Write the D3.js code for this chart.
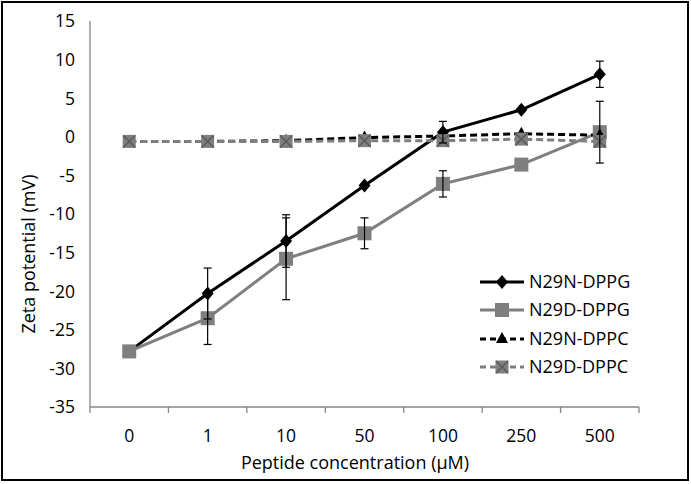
<!DOCTYPE html>
<html><head><meta charset="utf-8">
<script src="https://cdn.jsdelivr.net/npm/d3@7"></script>
<style>body{margin:0;background:#fff}svg{display:block}text{font-family:"Open Sans","Noto Sans",sans-serif;fill:#000}</style>
</head><body><svg id="c" width="691" height="484"></svg>
<script>
const categories = ["0","1","10","50","100","250","500"];
const seriesNames = ["N29N-DPPG","N29D-DPPG","N29N-DPPC","N29D-DPPC"];
const n29nDPPG = [-27.8,-20.3,-13.5,-6.3,0.6,3.5,8.1];
const n29nDPPGErr = [0,3.3,3.4,0,1.4,0,1.7];
const n29dDPPG = [-27.8,-23.5,-15.8,-12.5,-6.1,-3.6,0.6];
const n29dDPPGErr = [0,3.4,5.3,2.0,1.7,0,4.0];
const n29nDPPC = [-0.6,-0.6,-0.5,-0.1,0.1,0.4,0.2];
const n29dDPPC = [-0.6,-0.6,-0.6,-0.5,-0.5,-0.3,-0.6];
const yTicks = [15,10,5,0,-5,-10,-15,-20,-25,-30,-35];

const svg = d3.select("#c");
svg.append("rect").attr("x",2).attr("y",2).attr("width",686).attr("height",478)
  .attr("fill","none").attr("stroke","#000").attr("stroke-width",2);

const x = d3.scaleBand().domain(categories).range([90,639]);
const y = d3.scaleLinear().domain([-35,15]).range([407,21]);

// y axis
svg.append("line").attr("x1",90).attr("x2",90).attr("y1",y(15)).attr("y2",y(-35))
  .attr("stroke","#868686").attr("stroke-width",1.3);
svg.selectAll(".yl").data(yTicks).enter().append("text")
  .attr("x",75).attr("y",d=>y(d)).attr("dy","0.36em").attr("text-anchor","end")
  .attr("font-size",17.5).text(d=>d);
// x axis
svg.append("line").attr("x1",90).attr("x2",639).attr("y1",y(-35)).attr("y2",y(-35))
  .attr("stroke","#868686").attr("stroke-width",1.3);
const bounds = categories.map(c=>x(c)).concat([x.range()[1]]);
svg.selectAll(".xt").data(bounds).enter().append("line")
  .attr("x1",d=>d).attr("x2",d=>d).attr("y1",y(-35)).attr("y2",y(-35)+6)
  .attr("stroke","#868686").attr("stroke-width",1.3);
svg.selectAll(".xl").data(categories).enter().append("text")
  .attr("x",d=>x(d)+x.bandwidth()/2).attr("y",442).attr("text-anchor","middle")
  .attr("font-size",17.5).text(d=>d);
svg.append("text").attr("x",355).attr("y",469).attr("text-anchor","middle")
  .attr("font-size",18).text("Peptide concentration (μM)");
svg.append("text").attr("transform","translate(35,254) rotate(-90)").attr("text-anchor","middle")
  .attr("font-size",18).text("Zeta potential (mV)");

const cx = d => x(d)+x.bandwidth()/2;
const BLACK="#000", GRAY="#7f7f7f";
const series = [
  {name:seriesNames[0], v:n29nDPPG, err:n29nDPPGErr, color:BLACK, dash:null, marker:"diamond"},
  {name:seriesNames[1], v:n29dDPPG, err:n29dDPPGErr, color:GRAY, dash:null, marker:"square"},
  {name:seriesNames[2], v:n29nDPPC, err:null, color:BLACK, dash:"7,4", marker:"triangle"},
  {name:seriesNames[3], v:n29dDPPC, err:null, color:GRAY, dash:"7,4", marker:"xsquare"}
];
const line = d3.line().x((d,i)=>cx(categories[i])).y(d=>y(d));

function drawMarker(g, type, px, py, color){
  if(type==="diamond"){
    g.append("path").attr("d",`M${px},${py-7}L${px+6},${py}L${px},${py+7}L${px-6},${py}Z`).attr("fill",color);
  } else if(type==="square"){
    g.append("rect").attr("x",px-7).attr("y",py-7).attr("width",14).attr("height",14).attr("fill",color);
  } else if(type==="triangle"){
    g.append("path").attr("d",`M${px},${py-7}L${px+6},${py+4}L${px-6},${py+4}Z`).attr("fill",color);
  } else if(type==="xsquare"){
    g.append("rect").attr("x",px-6.5).attr("y",py-6.5).attr("width",13).attr("height",13).attr("fill",color);
    g.append("path").attr("d",`M${px-6},${py-6}L${px+6},${py+6}M${px+6},${py-6}L${px-6},${py+6}`)
      .attr("stroke","#5a5a5a").attr("stroke-width",1.5);
  }
}

const gErr = svg.append("g");
const gLines = svg.append("g");
const gMarks = svg.append("g");
series.forEach(s=>{
  gLines.append("path").datum(s.v).attr("d",line).attr("fill","none")
    .attr("stroke",s.color).attr("stroke-width",3).attr("stroke-dasharray",s.dash);
});
series.forEach(s=>{
  if(!s.err) return;
  s.v.forEach((v,i)=>{
    const e=s.err[i]; if(!e) return;
    const px=cx(categories[i]);
    gErr.append("line").attr("x1",px).attr("x2",px).attr("y1",y(v+e)).attr("y2",y(v-e)).attr("stroke","#000").attr("stroke-width",1.2);
    [v+e,v-e].forEach(t=>gErr.append("line").attr("x1",px-4).attr("x2",px+4).attr("y1",y(t)).attr("y2",y(t)).attr("stroke","#000").attr("stroke-width",1.2));
  });
});
series.forEach(s=>{
  s.v.forEach((v,i)=>drawMarker(gMarks,s.marker,cx(categories[i]),y(v),s.color));
});
gErr.raise();

// legend
const legY = [282,310,339,367];
series.forEach((s,i)=>{
  const g = svg.append("g");
  g.append("line").attr("x1",480).attr("x2",524).attr("y1",legY[i]).attr("y2",legY[i])
    .attr("stroke",s.color).attr("stroke-width",3).attr("stroke-dasharray",s.dash?"6,4":null);
  drawMarker(g,s.marker,502,legY[i],s.color);
  g.append("text").attr("x",529).attr("y",legY[i]).attr("dy","0.36em").attr("font-size",18).text(s.name);
});
</script></body></html>
